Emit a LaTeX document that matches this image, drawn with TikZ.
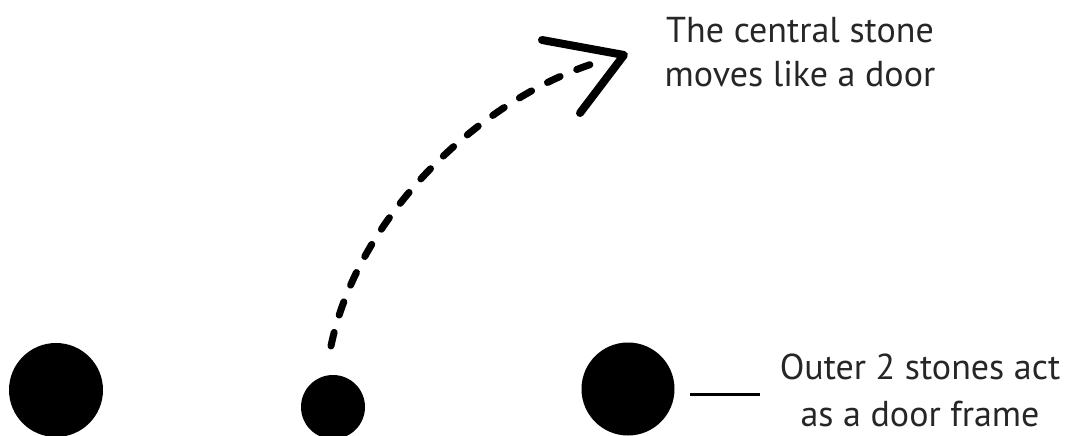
\documentclass[tikz,border=0pt]{standalone}
\usepackage{fontspec}
\setmainfont{PT Sans}
\begin{document}
\begin{tikzpicture}[x=1pt,y=-1pt,
  stone/.style={circle,fill=black,inner sep=0pt},
  lbl/.style={align=center,anchor=base,font=\fontsize{36}{44}\selectfont,text=black!85},
  movepath/.style={line width=7pt,line cap=round,dash pattern=on 14pt off 18pt},
  headline/.style={line width=8pt,line cap=round,line join=round}]
\useasboundingbox (0,0) rectangle (1069,436);
\node[stone,minimum size=94pt] (left) at (56,390) {};
\node[stone,minimum size=64pt] (mid) at (333,407) {};
\node[stone,minimum size=93pt] (right) at (628,389) {};
\coordinate (pathstart) at (331,346);
\coordinate (pathend) at (595,63);
\coordinate (tip) at (624,55);
\coordinate (barbA) at (542,40);
\coordinate (barbB) at (580,113);
\draw[movepath] (pathstart) .. controls (358,215) and (480,100) .. (pathend);
\draw[headline] (barbA) -- (tip) -- (barbB);
\coordinate (leadA) at (690,394);
\coordinate (leadB) at (760,394);
\draw[line width=3pt] (leadA) -- (leadB);
\node[lbl] (moves) at (800,87) {The central stone\\moves like a door};
\node[lbl] (frame) at (920,426) {Outer 2 stones act\\[3pt]as a door frame};
\end{tikzpicture}
\end{document}
